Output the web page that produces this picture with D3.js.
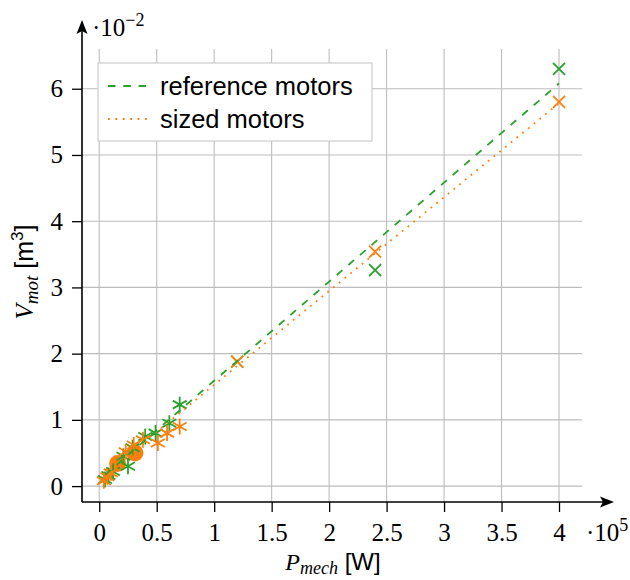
<!DOCTYPE html>
<html>
<head>
<meta charset="utf-8">
<script src="https://cdn.jsdelivr.net/npm/d3@7/dist/d3.min.js"></script>
<style>
  body { margin: 0; background: #fff; }
  .tick text { font-family: 'Liberation Serif', serif; font-size: 25px; fill: #000; }
  .tick line { stroke: #000; stroke-width: 1.3px; }
</style>
</head>
<body>
<svg id="chart" width="630" height="580"></svg>
<script>
// data: P_mech in 1e5 W, V_mot in 1e-2 m^3
var refP    = [0.05, 0.08, 0.12, 0.25, 0.21, 0.29, 0.40, 0.49, 0.61, 0.70, 1.20, 2.40, 4.00];
var refV    = [0.10, 0.16, 0.22, 0.30, 0.45, 0.58, 0.75, 0.80, 0.95, 1.23, 1.88, 3.26, 6.30];
var refMark = ['ast', 'ast', 'ast', 'ast', 'ast', 'ast', 'ast', 'ast', 'ast', 'ast', 'x', 'x', 'x'];

var sizedP    = [0.04, 0.07, 0.10, 0.16, 0.31, 0.23, 0.30, 0.38, 0.51, 0.59, 0.70, 1.20, 2.40, 4.00];
var sizedV    = [0.08, 0.14, 0.20, 0.34, 0.50, 0.52, 0.62, 0.70, 0.65, 0.80, 0.90, 1.88, 3.54, 5.80];
var sizedMark = ['ast', 'ast', 'ast', 'dot', 'dot', 'ast', 'ast', 'ast', 'ast', 'ast', 'ast', 'x', 'x', 'x'];

// fit lines
var refFitP = [0.05, 4.00];
var refFitV = [0.17, 6.08];
var sizedFitP = [0.04, 4.00];
var sizedFitV = [0.17, 5.78];

var xTicks = [0, 0.5, 1, 1.5, 2, 2.5, 3, 3.5, 4];
var yTicks = [0, 1, 2, 3, 4, 5, 6];
var legendLabels = ['reference motors', 'sized motors'];

var green = '#2ca02c', orange = '#ff7f0e';

// margins of the plot area
var margin = {top: 49, right: 48, bottom: 78, left: 82},
  width = 630 - margin.left - margin.right,
  height = 580 - margin.top - margin.bottom;

var x = d3.scaleLinear().domain([-0.15, 4.2]).range([0, width]);
var y = d3.scaleLinear().domain([-0.24, 6.6]).range([height, 0]);

var svg = d3.select('#chart');
var g = svg.append('g')
  .attr('transform', 'translate(' + margin.left + ',' + margin.top + ')');

// grid
g.selectAll('.vgrid').data(xTicks).enter().append('line')
  .attr('class', 'vgrid')
  .attr('x1', function(d) { return x(d); }).attr('x2', function(d) { return x(d); })
  .attr('y1', 0).attr('y2', height)
  .attr('stroke', '#bdbdbd').attr('stroke-width', 1.1);
g.selectAll('.hgrid').data(yTicks).enter().append('line')
  .attr('class', 'hgrid')
  .attr('y1', function(d) { return y(d); }).attr('y2', function(d) { return y(d); })
  .attr('x1', 0).attr('x2', width)
  .attr('stroke', '#bdbdbd').attr('stroke-width', 1.1);

// axes
var xAxis = d3.axisBottom(x).tickValues(xTicks).tickSize(10).tickPadding(11)
  .tickFormat(function(d) { return String(d); });
var yAxis = d3.axisLeft(y).tickValues(yTicks).tickSize(10).tickPadding(9)
  .tickFormat(function(d) { return String(d); });

g.append('g').attr('class', 'x axis')
  .attr('transform', 'translate(0,' + height + ')')
  .call(xAxis)
  .call(function(s) { s.select('.domain').remove(); });
g.append('g').attr('class', 'y axis')
  .call(yAxis)
  .call(function(s) { s.select('.domain').remove(); });

// axis lines with arrows
g.append('line').attr('x1', 0).attr('y1', height).attr('x2', width + 24).attr('y2', height)
  .attr('stroke', '#000').attr('stroke-width', 1.6);
g.append('line').attr('x1', 0).attr('y1', height).attr('x2', 0).attr('y2', -20)
  .attr('stroke', '#000').attr('stroke-width', 1.6);
g.append('path')
  .attr('d', 'M' + (width + 32) + ',' + height + 'l-14,-5.5 l3,5.5 l-3,5.5z')
  .attr('fill', '#000');
g.append('path')
  .attr('d', 'M0,-29 l-5.5,14 l5.5,-3 l5.5,3z')
  .attr('fill', '#000');

var line = d3.line()
  .x(function(d) { return x(d[0]); })
  .y(function(d) { return y(d[1]); });

// marker shapes
function markerPath(shape) {
  var r;
  if (shape === 'x') {
    r = 6;
    return 'M' + (-r) + ',' + (-r) + 'L' + r + ',' + r + 'M' + (-r) + ',' + r + 'L' + r + ',' + (-r);
  }
  r = 8;
  var p = '';
  [90, 30, 150].forEach(function(a) {
    var dx = r * Math.cos(a * Math.PI / 180), dy = r * Math.sin(a * Math.PI / 180);
    p += 'M' + (-dx) + ',' + (-dy) + 'L' + dx + ',' + dy;
  });
  return p;
}

function toPoints(P, V, marks) {
  return P.map(function(p, i) { return {p: p, v: V[i], m: marks[i]}; });
}

function drawDots(pts, color) {
  g.selectAll(null).data(pts.filter(function(d) { return d.m === 'dot'; }))
    .enter().append('circle')
    .attr('cx', function(d) { return x(d.p); })
    .attr('cy', function(d) { return y(d.v); })
    .attr('r', 8.5)
    .attr('fill', color);
}

function drawStrokes(pts, color) {
  g.selectAll(null).data(pts.filter(function(d) { return d.m !== 'dot'; }))
    .enter().append('path')
    .attr('transform', function(d) { return 'translate(' + x(d.p) + ',' + y(d.v) + ')'; })
    .attr('d', function(d) { return markerPath(d.m); })
    .attr('fill', 'none')
    .attr('stroke', color)
    .attr('stroke-width', 1.8);
}

var refPts = toPoints(refP, refV, refMark);
var sizedPts = toPoints(sizedP, sizedV, sizedMark);

drawDots(sizedPts, orange);
drawStrokes(refPts, green);
drawStrokes(sizedPts, orange);

// fit lines
g.append('path')
  .datum(sizedFitP.map(function(p, i) { return [p, sizedFitV[i]]; }))
  .attr('d', line)
  .attr('fill', 'none').attr('stroke', orange).attr('stroke-width', 1.8)
  .attr('stroke-dasharray', '1.8,5.6');
g.append('path')
  .datum(refFitP.map(function(p, i) { return [p, refFitV[i]]; }))
  .attr('d', line)
  .attr('fill', 'none').attr('stroke', green).attr('stroke-width', 1.8)
  .attr('stroke-dasharray', '7.5,7.8');

// exponent labels
var xExp = g.append('text')
  .attr('x', width + 4).attr('y', height + 39)
  .style('font-family', 'Liberation Serif, serif').style('font-size', '25px');
xExp.append('tspan').text('\u00b710');
xExp.append('tspan').attr('dy', -10).style('font-size', '18px').text('5');

var yExp = g.append('text')
  .attr('x', 10).attr('y', -13)
  .style('font-family', 'Liberation Serif, serif').style('font-size', '25px');
yExp.append('tspan').text('\u00b710');
yExp.append('tspan').attr('dy', -10).style('font-size', '18px').text('\u22122');

// axis titles
var xTitle = svg.append('text')
  .attr('x', 333).attr('y', 570)
  .attr('text-anchor', 'middle')
  .style('font-size', '24px');
xTitle.append('tspan').style('font-family', 'Liberation Serif, serif').style('font-style', 'italic').text('P');
xTitle.append('tspan').attr('dy', 4).style('font-family', 'Liberation Serif, serif').style('font-style', 'italic')
  .style('font-size', '18px').text('mech');
xTitle.append('tspan').attr('dy', -4).style('font-family', 'Liberation Sans, sans-serif').text(' [W]');

var yTitle = svg.append('text')
  .attr('transform', 'translate(33,272) rotate(-90)')
  .attr('text-anchor', 'middle')
  .style('font-size', '25px');
yTitle.append('tspan').style('font-family', 'Liberation Serif, serif').style('font-style', 'italic').text('V');
yTitle.append('tspan').attr('dy', 5).style('font-family', 'Liberation Serif, serif').style('font-style', 'italic')
  .style('font-size', '19px').text('mot');
yTitle.append('tspan').attr('dy', -5).style('font-family', 'Liberation Sans, sans-serif').text(' [m');
yTitle.append('tspan').attr('dy', -10).style('font-family', 'Liberation Sans, sans-serif')
  .style('font-size', '17px').text('3');
yTitle.append('tspan').attr('dy', 10).style('font-family', 'Liberation Sans, sans-serif').text(']');

// legend
var legend = g.append('g').attr('transform', 'translate(16,14)');
legend.append('rect')
  .attr('width', 274).attr('height', 78)
  .attr('fill', '#fff').attr('stroke', '#cccccc').attr('stroke-width', 1.2);
var legendStyle = [
  {color: green, dash: '7.5,7.8', w: 1.8},
  {color: orange, dash: '1.8,5.6', w: 1.8}
];
legendLabels.forEach(function(lbl, i) {
  var yy = 23 + i * 33;
  legend.append('line')
    .attr('x1', 10).attr('x2', 54).attr('y1', yy).attr('y2', yy)
    .attr('stroke', legendStyle[i].color).attr('stroke-width', legendStyle[i].w)
    .attr('stroke-dasharray', legendStyle[i].dash);
  legend.append('text')
    .attr('x', 62).attr('y', yy + 9)
    .style('font-family', 'Liberation Sans, Arial, sans-serif')
    .style('font-size', '25.5px')
    .text(lbl);
});
</script>
</body>
</html>
